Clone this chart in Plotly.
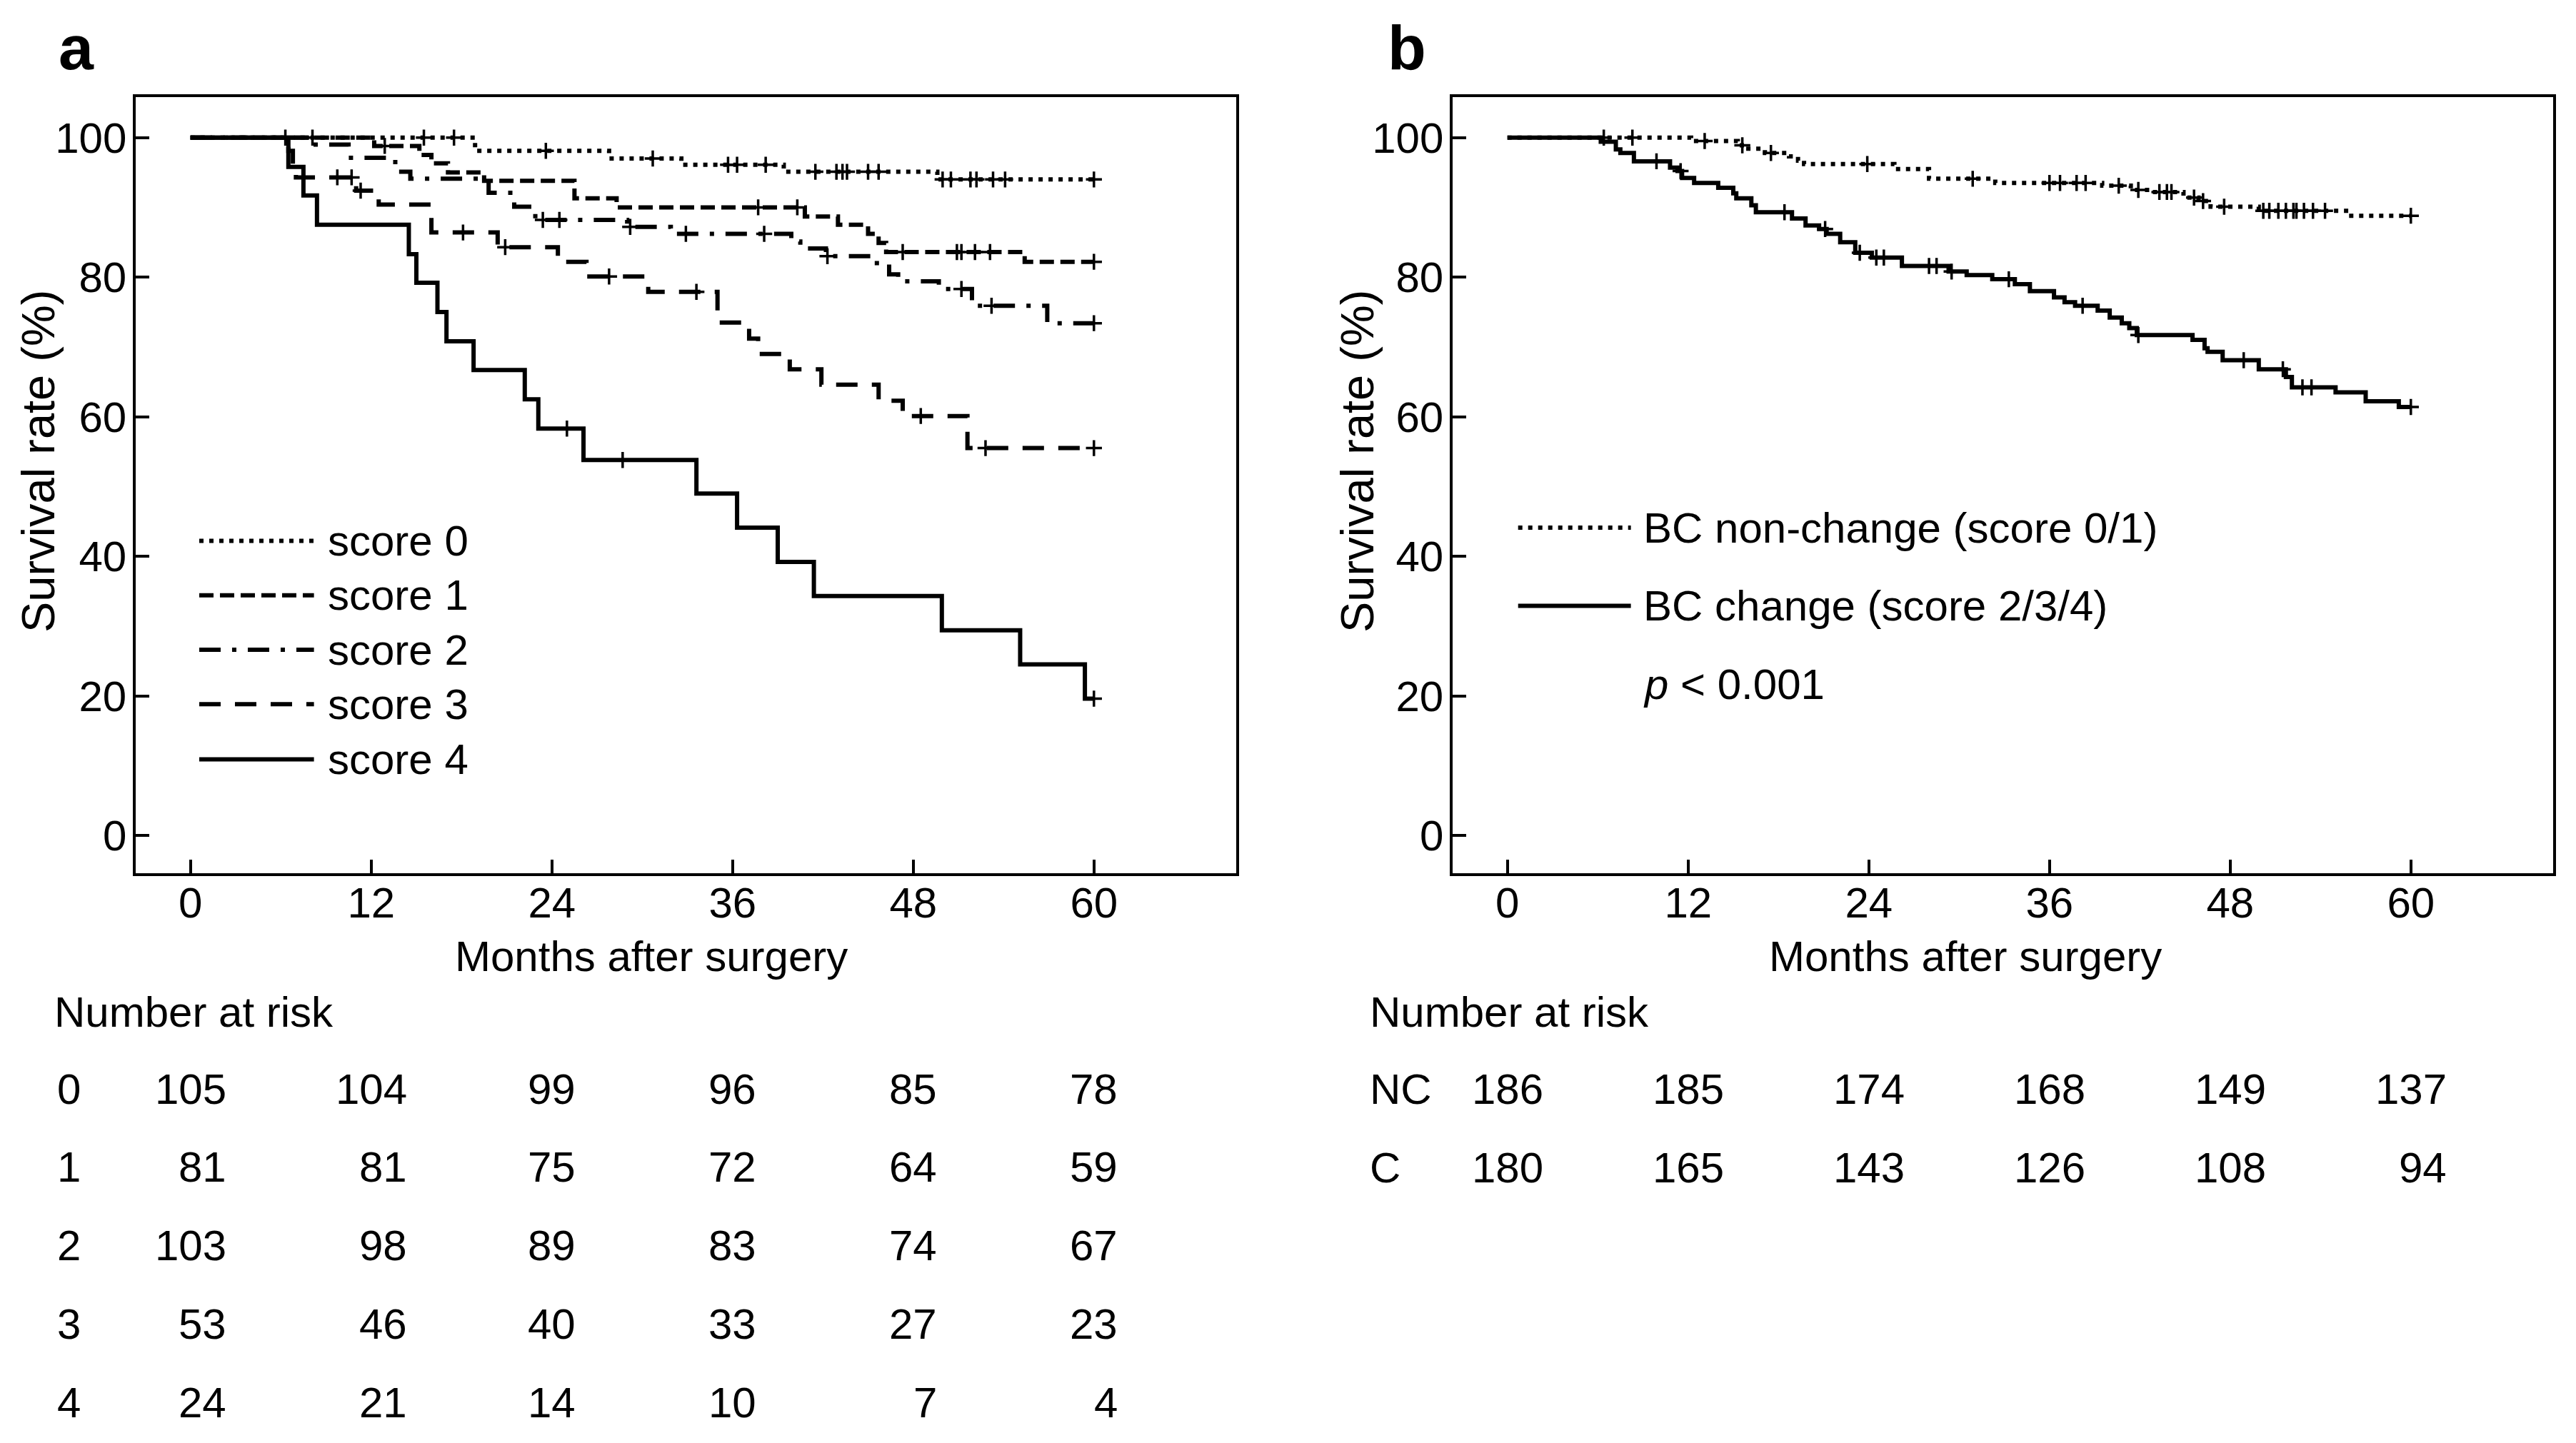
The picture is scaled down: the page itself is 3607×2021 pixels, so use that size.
import plotly.graph_objects as go
import numpy as np

# ---------------- DATA ----------------
MONTH_TICKS = [0, 12, 24, 36, 48, 60]
SURV_TICKS = [0, 20, 40, 60, 80, 100]

# Panel a: Kaplan-Meier step curves (time in months, survival %)
S0_T = [0, 18.9, 27.8, 32.6, 39.4, 49.6, 60]
S0_S = [100, 98.1, 97.0, 96.1, 95.1, 94.0, 94.0]
S0_CENS = [6.3, 8.1, 15.5, 17.5, 23.6, 30.7, 35.7, 36.3, 38.2, 41.5, 42.9, 43.3, 43.6,
           45.0, 45.7, 49.95, 50.5, 51.8, 52.2, 53.3, 54.1, 60]

S1_T = [0, 12.2, 15.2, 16.0, 17.1, 19.5, 25.5, 28.3, 40.8, 43.0, 45.0, 45.7, 46.2, 55.4, 60]
S1_S = [100, 98.8, 97.5, 96.3, 95.0, 93.8, 91.3, 90.0, 88.7, 87.5, 86.2, 84.9, 83.6, 82.2, 82.2]
S1_CENS = [12.9, 37.7, 40.3, 47.3, 50.9, 51.2, 52.1, 53.1, 60]

S2_T = [0, 8.1, 10.5, 13.6, 14.6, 19.8, 21.5, 22.9, 29.0, 31.9, 39.9, 40.5, 42.2, 45.2,
        46.4, 47.0, 49.7, 51.9, 56.9, 60]
S2_S = [100, 99.0, 97.1, 95.1, 94.1, 92.1, 90.1, 88.2, 87.2, 86.2, 85.1, 84.1, 83.0, 82.0,
        80.4, 79.4, 78.3, 75.9, 73.4, 73.4]
S2_CENS = [23.4, 24.5, 29.2, 32.9, 38.1, 42.3, 51.2, 53.2, 60]

S3_T = [0, 6.5, 6.8, 7.0, 11.0, 12.5, 16.0, 20.4, 24.4, 26.3, 30.4, 35.0, 37.1, 37.7,
        39.8, 41.9, 45.7, 47.3, 51.6, 60]
S3_S = [100, 98.1, 96.2, 94.3, 92.4, 90.4, 86.4, 84.3, 82.2, 80.1, 77.9, 73.5, 71.2, 69.0,
        66.8, 64.6, 62.3, 60.1, 55.5, 55.5]
S3_CENS = [9.75, 10.7, 11.3, 18.1, 20.9, 27.8, 33.6, 48.5, 52.8, 60]

S4_T = [0, 6.5, 7.5, 8.4, 14.5, 15.0, 16.4, 17.0, 18.8, 22.2, 23.1, 26.1, 33.6, 36.3,
        39.0, 41.4, 49.9, 55.1, 59.4, 60]
S4_S = [100, 95.8, 91.7, 87.5, 83.3, 79.2, 75.0, 70.8, 66.7, 62.5, 58.3, 53.8, 49.0, 44.1,
        39.2, 34.3, 29.4, 24.5, 19.6, 19.6]
S4_CENS = [25.0, 28.7, 60]

# Panel b
NC_T = [0, 12.2, 15.3, 16.0, 17.1, 18.7, 19.3, 19.7, 25.7, 28.0, 32.4, 39.5, 41.4, 42.8,
        44.9, 45.9, 46.7, 49.9, 55.7, 60]
NC_S = [100, 99.5, 98.9, 98.4, 97.8, 97.3, 96.7, 96.2, 95.5, 94.1, 93.5, 93.1, 92.5, 92.2,
        91.4, 90.9, 90.1, 89.5, 88.8, 88.8]
NC_CENS = [6.4, 8.3, 13.1, 15.6, 17.5, 23.9, 30.9, 36.0, 36.7, 37.8, 38.4, 40.6, 41.9,
           43.3, 43.8, 44.1, 45.6, 46.2, 47.6, 50.2, 50.6, 51.2, 51.7, 52.2, 52.4, 52.9,
           53.5, 54.3, 60]

C_T = [0, 6.2, 7.2, 7.5, 8.4, 10.8, 11.3, 11.6, 12.4, 14.0, 15.0, 15.2, 16.2, 16.5, 18.9,
       19.8, 20.7, 21.2, 22.1, 23.1, 24.2, 26.2, 29.3, 30.5, 32.2, 33.7, 34.7, 36.3, 37.0,
       37.7, 39.2, 40.0, 40.8, 41.3, 41.8, 45.5, 46.3, 46.5, 47.5, 49.9, 51.7, 52.1, 55.0,
       57.0, 59.2, 60]
C_S = [100, 99.4, 98.3, 97.8, 96.6, 95.7, 95.2, 94.2, 93.5, 92.8, 92.0, 91.3, 90.3, 89.3,
       88.4, 87.4, 86.9, 86.2, 85.0, 83.5, 82.8, 81.6, 80.8, 80.3, 79.7, 79.0, 78.0, 77.1,
       76.4, 75.9, 75.2, 74.2, 73.4, 72.7, 71.7, 71.0, 69.8, 69.3, 68.1, 66.8, 65.7, 64.2,
       63.5, 62.2, 61.4, 61.4]
C_CENS = [9.9, 11.5, 18.4, 21.1, 23.4, 24.5, 25.0, 28.0, 28.5, 29.5, 33.3, 38.2, 41.9,
          48.9, 51.5, 52.8, 53.4, 60]

# Number at risk tables
RISK_A_LABELS = ["0", "1", "2", "3", "4"]
RISK_A = [
    [105, 104, 99, 96, 85, 78],
    [81, 81, 75, 72, 64, 59],
    [103, 98, 89, 83, 74, 67],
    [53, 46, 40, 33, 27, 23],
    [24, 21, 14, 10, 7, 4],
]
RISK_B_LABELS = ["NC", "C"]
RISK_B = [
    [186, 185, 174, 168, 149, 137],
    [180, 165, 143, 126, 108, 94],
]

LEGEND_A = ["score 0", "score 1", "score 2", "score 3", "score 4"]
LEGEND_B = ["BC non-change (score 0/1)", "BC change (score 2/3/4)"]

# ---------------- STYLE ----------------
W, H = 3607, 2021
FONT = "Liberation Sans, Arial, Helvetica, sans-serif"
FS = 60
LW = 6
DASH_A = ["6px,8px", "20px,9px", "30px,16px,6px,16px", "30px,20px", "solid"]
DASH_B = ["6px,8px", "solid"]


def px(x):
    return x / W


def py(y):
    return 1 - y / H


def step_value(ts, ss, t):
    idx = np.searchsorted(np.asarray(ts), t, side="right") - 1
    return ss[max(idx, 0)]


fig = go.Figure()

series_a = [(S0_T, S0_S, S0_CENS), (S1_T, S1_S, S1_CENS), (S2_T, S2_S, S2_CENS),
            (S3_T, S3_S, S3_CENS), (S4_T, S4_S, S4_CENS)]
series_b = [(NC_T, NC_S, NC_CENS), (C_T, C_S, C_CENS)]

for panel, series, dashes in (("", series_a, DASH_A), ("2", series_b, DASH_B)):
    xa, ya = "x" + panel, "y" + panel
    for (ts, ss, cens), dash in zip(series, dashes):
        fig.add_trace(go.Scatter(
            x=ts, y=ss, mode="lines", line=dict(shape="hv", color="black", width=LW, dash=dash),
            xaxis=xa, yaxis=ya, showlegend=False, hoverinfo="skip"))
        fig.add_trace(go.Scatter(
            x=cens, y=[step_value(ts, ss, c) for c in cens], mode="markers",
            marker=dict(symbol="cross-thin", size=16, color="black",
                        line=dict(width=3.5, color="black")),
            xaxis=xa, yaxis=ya, showlegend=False, hoverinfo="skip", cliponaxis=False))

XR = [-3.64, 69.45]
YR = [-5.42, 105.8]
ydom = [py(1223), py(136)]
axis_common = dict(showline=True, linewidth=3.5, linecolor="black", mirror=True,
                   ticks="inside", ticklen=19, tickwidth=3.5, tickcolor="black",
                   showgrid=False, zeroline=False,
                   tickfont=dict(family=FONT, size=FS, color="black"))
xaxis_extra = dict(ticklabelstandoff=-14)
yaxis_extra = dict(ticklabelstandoff=-3)

fig.update_layout(
    width=W, height=H, margin=dict(l=0, r=0, t=0, b=0),
    paper_bgcolor="white", plot_bgcolor="white",
    font=dict(family=FONT, size=FS, color="black"),
    xaxis=dict(domain=[px(190), px(1731)], range=XR, tickvals=MONTH_TICKS, anchor="y",
               **axis_common, **xaxis_extra),
    yaxis=dict(domain=ydom, range=YR, tickvals=SURV_TICKS, anchor="x",
               **axis_common, **yaxis_extra),
    xaxis2=dict(domain=[px(2034), px(3575)], range=XR, tickvals=MONTH_TICKS, anchor="y2",
                **axis_common, **xaxis_extra),
    yaxis2=dict(domain=ydom, range=YR, tickvals=SURV_TICKS, anchor="x2",
                **axis_common, **yaxis_extra),
)

ann = []
shapes = []


def text(x, y, s, xref="paper", yref="paper", xanchor="left", yanchor="middle", size=FS,
         xshift=0, **kw):
    ann.append(dict(x=x, y=y, text=s, xref=xref, yref=yref, xanchor=xanchor, yanchor=yanchor,
                    showarrow=False, xshift=xshift,
                    font=dict(family=FONT, size=size, color="black"), **kw))


# panel letters
text(px(80), py(67), "<b>a</b>", size=88)
text(px(1941), py(67), "<b>b</b>", size=88)

# axis titles
for xc in (px(53), px(1900)):
    text(xc, py(646), "Survival rate (%)", xanchor="center", size=65, textangle=-90)
text(30.6, py(1339), "Months after surgery", xref="x", xanchor="center")
text(30.4, py(1339), "Months after surgery", xref="x2", xanchor="center")

# legends (panel a)
leg_y_a = [42.2, 34.4, 26.6, 18.8, 10.9]
for lab, dash, yy in zip(LEGEND_A, DASH_A, leg_y_a):
    shapes.append(dict(type="line", xref="x", yref="y", x0=0.58, x1=8.2, y0=yy, y1=yy,
                       line=dict(color="black", width=LW, dash=dash)))
    text(9.04, yy, lab, xref="x", yref="y")

# legends (panel b)
leg_y_b = [44.1, 32.9]
for lab, dash, yy in zip(LEGEND_B, DASH_B, leg_y_b):
    shapes.append(dict(type="line", xref="x2", yref="y2", x0=0.71, x1=8.2, y0=yy, y1=yy,
                       line=dict(color="black", width=LW, dash=dash)))
    text(8.95, yy, lab, xref="x2", yref="y2")
text(8.95, 21.6, "<i>p</i> < 0.001", xref="x2", yref="y2")

# number at risk tables
row_y_a = [1525, 1634, 1744, 1854, 1964]
row_y_b = [1525, 1635]
text(px(74), py(1417), "Number at risk")
text(px(1916), py(1417), "Number at risk")

for labels, table, rows, xref, lx in ((RISK_A_LABELS, RISK_A, row_y_a, "x", 78),
                                      (RISK_B_LABELS, RISK_B, row_y_b, "x2", 1916)):
    maxdig = [max(len(str(r[j])) for r in table) for j in range(len(MONTH_TICKS))]
    for lab, vals, ry in zip(labels, table, rows):
        text(px(lx), py(ry), lab)
        for j, (t, v) in enumerate(zip(MONTH_TICKS, vals)):
            text(t, py(ry), str(v), xref=xref, xanchor="right", xshift=maxdig[j] * 17.5)

fig.update_layout(annotations=ann, shapes=shapes)
fig.write_html("out.html", config={"displayModeBar": False},
               post_script="document.body.style.margin='0';document.body.style.padding='0';")
